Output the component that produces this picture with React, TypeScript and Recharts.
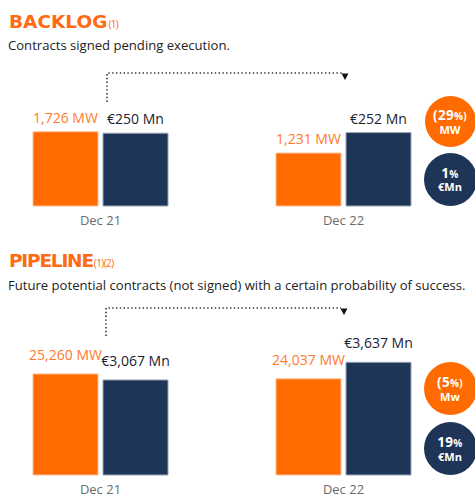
import { BarChart, Bar, XAxis, YAxis, LabelList } from "recharts";

const categories = ["Dec 21", "Dec 22"];
const backlogMw = [1726, 1231];
const backlogMn = [250, 252];
const pipelineMw = [25260, 24037];
const pipelineMn = [3067, 3637];
const backlogChange = [
  { value: "(29", pct: "%)", unit: "MW" },
  { value: "1", pct: "%", unit: "€Mn" },
];
const pipelineChange = [
  { value: "(5", pct: "%)", unit: "Mw" },
  { value: "19", pct: "%", unit: "€Mn" },
];

const ORANGE = "#ff6b00";
const NAVY = "#1f3558";
const TITLE_ORANGE = "#ff6a13";

const fmtMw = (v: number) => `${v.toLocaleString("en-US")} MW`;
const fmtMn = (v: number) => `€${v.toLocaleString("en-US")} Mn`;

function barLabel(color: string, offset: number, fmt: (v: number) => string) {
  return (props: any) => {
    const { x, y, width, value } = props;
    return (
      <text
        x={Number(x) + Number(width) / 2}
        y={Number(y) - offset}
        textAnchor="middle"
        fill={color}
        fontSize={14}
      >
        {fmt(Number(value))}
      </text>
    );
  };
}

interface SectionProps {
  mw: number[];
  mn: number[];
  top: number;
  plotHeight: number;
  axisHeight: number;
  mwMax: number;
  mnMax: number;
  labelOffset: number;
}

function Section({ mw, mn, top, plotHeight, axisHeight, mwMax, mnMax, labelOffset }: SectionProps) {
  const data = categories.map((name, i) => ({ name, mw: mw[i], mn: mn[i] }));
  const marginTop = 26;
  return (
    <div style={{ position: "absolute", left: -21.5, top }}>
      <BarChart
        width={486}
        height={marginTop + plotHeight + axisHeight}
        data={data}
        margin={{ top: marginTop, right: 0, bottom: 0, left: 0 }}
        barGap={5}
      >
        <XAxis
          dataKey="name"
          axisLine={false}
          tickLine={false}
          tickMargin={4}
          height={axisHeight}
          tick={{ fill: "#6b6b6b", fontSize: 13 }}
        />
        <YAxis yAxisId="mw" hide domain={[0, mwMax]} />
        <YAxis yAxisId="mn" hide domain={[0, mnMax]} />
        <Bar
          yAxisId="mw"
          dataKey="mw"
          fill={ORANGE}
          stroke="#ffbf94"
          strokeWidth={1}
          barSize={65}
          isAnimationActive={false}
        >
          <LabelList dataKey="mw" content={barLabel("#ff7a2e", labelOffset, fmtMw)} />
        </Bar>
        <Bar
          yAxisId="mn"
          dataKey="mn"
          fill={NAVY}
          stroke="#9aa6b8"
          strokeWidth={1}
          barSize={65}
          isAnimationActive={false}
        >
          <LabelList dataKey="mn" content={barLabel("#1b2230", labelOffset, fmtMn)} />
        </Bar>
      </BarChart>
    </div>
  );
}

function Circle({ cx, cy, r, color, item }: { cx: number; cy: number; r: number; color: string; item: { value: string; pct: string; unit: string } }) {
  return (
    <div
      style={{
        position: "absolute",
        left: cx - r,
        top: cy - r,
        width: r * 2,
        height: r * 2,
        borderRadius: "50%",
        background: color,
        color: "#fff",
        fontWeight: 700,
        display: "flex",
        flexDirection: "column",
        alignItems: "center",
        justifyContent: "center",
        lineHeight: 1,
        paddingTop: 1,
        boxSizing: "border-box",
      }}
    >
      <div style={{ fontSize: 13.5, letterSpacing: 0.3 }}>
        {item.value}
        <span style={{ fontSize: 10 }}>{item.pct}</span>
      </div>
      <div style={{ fontSize: 11, marginTop: 1 }}>{item.unit}</div>
    </div>
  );
}

function Title({ text, note, top, spacing }: { text: string; note: string; top: number; spacing: number }) {
  return (
    <div
      style={{
        position: "absolute",
        left: 9,
        top,
        fontFamily: '"DejaVu Sans", sans-serif',
        fontWeight: 700,
        fontSize: 18.5,
        lineHeight: "20px",
        letterSpacing: spacing,
        color: TITLE_ORANGE,
        whiteSpace: "nowrap",
      }}
    >
      {text}
      <span style={{ fontFamily: '"Open Sans", sans-serif', fontWeight: 400, fontSize: 10, letterSpacing: -0.6, marginLeft: 1 }}>
        {note}
      </span>
    </div>
  );
}

function Subtitle({ text, top }: { text: string; top: number }) {
  return (
    <div style={{ position: "absolute", left: 8, top, fontSize: 13.1, lineHeight: "14px", color: "#222", whiteSpace: "nowrap" }}>
      {text}
    </div>
  );
}

export default function App() {
  const dot = { stroke: "#333", strokeWidth: 1.6, strokeDasharray: "1.4 2.4", fill: "none" };
  return (
    <div
      style={{
        position: "fixed",
        left: 0,
        top: 0,
        width: 475,
        height: 495,
        overflow: "hidden",
        background: "#fff",
        fontFamily: '"Open Sans", sans-serif',
      }}
    >
      <Title text="BACKLOG" note="(1)" top={11.6} spacing={0} />
      <Subtitle text="Contracts signed pending execution." top={37.6} />
      <Section mw={backlogMw} mn={backlogMn} top={60} plotHeight={120} axisHeight={24} mwMax={2790} mnMax={412} labelOffset={9} />

      <Title text="PIPELINE" note="(1)(2)" top={250.6} spacing={-1.2} />
      <Subtitle text="Future potential contracts (not signed) with a certain probability of success." top={277.6} />
      <Section mw={pipelineMw} mn={pipelineMn} top={299} plotHeight={150} axisHeight={20} mwMax={37500} mnMax={4840} labelOffset={14} />

      <svg width={475} height={495} style={{ position: "absolute", left: 0, top: 0, pointerEvents: "none" }}>
        <path d="M107 102 V73 H342" {...dot} />
        <path d="M341.5 73.5 L348.5 73.5 L345 80 Z" fill="#111" />
        <path d="M106 336 V308 H341" {...dot} />
        <path d="M340.5 308.5 L347.5 308.5 L344 315 Z" fill="#111" />
      </svg>

      <Circle cx={450} cy={121.5} r={25.5} color={ORANGE} item={backlogChange[0]} />
      <Circle cx={450} cy={179} r={26.5} color={NAVY} item={backlogChange[1]} />
      <Circle cx={450} cy={388.5} r={26.5} color={ORANGE} item={pipelineChange[0]} />
      <Circle cx={450} cy={448.5} r={26.5} color={NAVY} item={pipelineChange[1]} />
    </div>
  );
}
